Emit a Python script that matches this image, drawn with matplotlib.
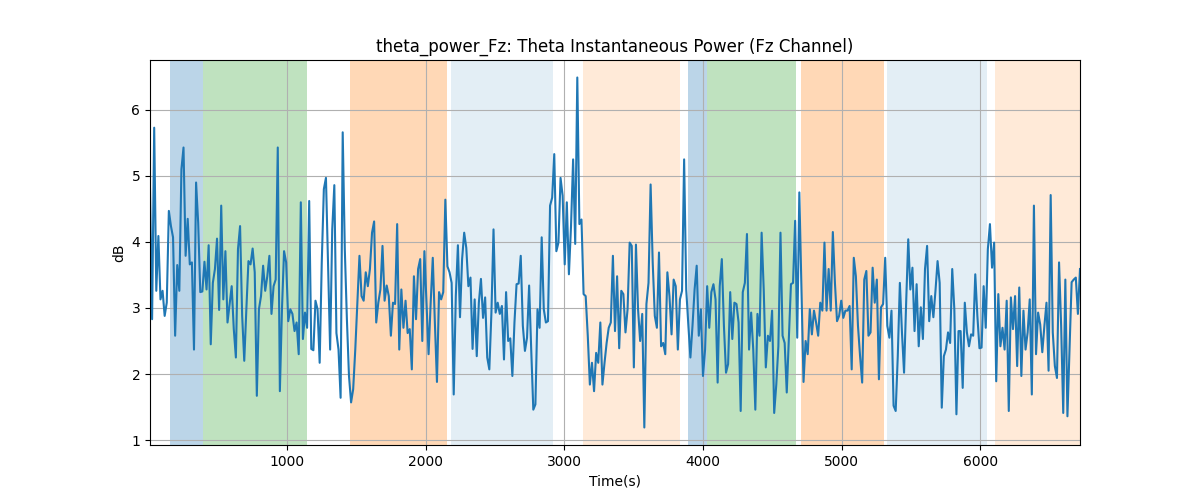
import numpy as np
import matplotlib.pyplot as plt

# theta power (dB), sampled at a fixed step
power_db = [
    4.8, 2.83, 5.73, 3.26, 4.09, 3.13, 3.26, 2.88, 3.08, 4.47, 4.24, 4.07, 2.58, 3.65, 3.26, 5.1, 5.43, 3.79,
    4.35, 3.66, 3.69, 2.37, 4.9, 4.29, 3.24, 3.25, 3.7, 3.28, 3.95, 2.45, 3.38, 3.59, 4.05, 2.97, 4.55, 3.13,
    3.86, 2.78, 3.06, 3.33, 2.68, 2.25, 3.89, 4.24, 2.88, 2.2, 2.98, 3.71, 3.66, 3.9, 3.54, 1.67, 2.98, 3.18,
    3.64, 3.26, 3.48, 3.79, 2.91, 3.33, 3.43, 5.43, 1.74, 2.98, 3.86, 3.69, 2.8, 2.98, 2.91, 2.65, 2.78, 2.3,
    4.6, 2.53,
    2.93, 2.7, 4.62, 2.38, 2.36, 3.11, 2.98, 2.17, 3.69, 4.8, 4.97, 3.69, 2.37, 4.19, 4.86, 2.62, 2.37, 1.64,
    5.66, 3.89, 2.83, 1.97, 1.57, 1.77, 2.37, 3.08, 3.79, 3.18, 3.11, 3.54, 3.33, 3.59, 4.14, 4.31, 2.78, 3.08,
    3.28, 3.94,
    3.11, 3.34, 3.18, 2.58, 3.08, 3.06, 4.27, 2.37, 3.28, 2.7, 3.11, 2.62, 2.68, 2.07, 3.48, 2.83, 3.59, 3.74,
    2.5, 3.86, 3.08, 2.3, 3.08, 3.76, 2.78, 1.88, 3.24, 3.13, 3.24, 4.64, 3.63, 3.54, 3.38, 1.69, 3.18, 3.95,
    2.86, 3.74, 4.14,
    3.91, 3.33, 3.46, 2.38, 3.13, 2.27, 3.08, 3.44, 2.85, 3.16, 2.25, 2.07, 2.93, 4.19, 2.93, 3.08, 2.91, 3.03,
    2.22, 3.24, 2.5, 2.54, 1.97, 2.78, 3.36, 3.37, 3.79, 2.73, 2.35, 2.55, 3.34, 2.37, 1.46, 1.54, 2.98, 2.7,
    4.07, 2.98,
    2.78, 2.8, 4.55, 4.67, 5.33, 3.86, 3.99, 4.97, 4.7, 3.66, 4.6, 3.51, 4.24, 5.25, 3.97, 6.49, 4.27, 4.34,
    3.21, 3.18, 2.58, 1.84, 2.17, 1.74, 2.32, 2.17, 2.78, 1.84, 2.17, 2.47, 2.7, 2.78, 3.79, 2.65, 3.48, 2.39,
    3.26, 3.21,
    2.63, 2.98, 3.99, 3.94, 2.1, 3.96, 2.98, 2.5, 2.91, 1.19, 3.06, 3.38, 4.87, 3.69, 2.88, 2.7, 3.84, 2.42,
    2.47, 2.3, 3.54, 3.18, 2.6, 3.43, 3.33, 2.37, 3.13, 3.26, 5.25, 3.28, 2.75, 2.25, 2.73, 3.28, 3.64, 2.58,
    2.98, 1.97, 2.37,
    3.33, 2.7, 3.24, 3.36, 3.13, 1.87, 3.33, 3.74, 2.73, 2.02, 2.15, 3.24, 2.53, 3.08, 3.06, 2.78, 1.44, 3.24,
    3.38, 4.12, 2.37, 2.93, 2.37, 1.46, 2.91, 2.58, 4.14, 3.28, 2.1, 2.58, 2.5, 2.96, 1.41, 1.84, 2.42, 4.14,
    2.58, 2.47, 1.72,
    2.55, 3.36, 3.38, 4.32, 2.55, 4.75, 3.28, 1.88, 2.5, 2.3, 2.98, 2.6, 2.96, 2.78, 2.58, 3.08, 2.96, 3.99,
    2.96, 3.59, 2.96, 4.15, 3.38, 2.8, 2.88, 3.11, 2.85, 2.96, 2.96, 3.03, 2.07, 3.76, 3.48, 2.73, 2.27, 1.87,
    3.43, 3.56,
    2.58, 2.63, 3.61, 3.08, 3.43, 1.92, 3.01, 3.06, 3.76, 2.73, 2.55, 2.96, 1.52, 1.44, 2.27, 3.38, 2.63, 2.02,
    3.08, 4.04, 3.28, 3.61, 2.65, 3.36, 2.42, 3.01, 2.53, 3.59, 3.94, 2.8, 3.18, 2.86, 3.26, 3.71, 3.38, 1.49,
    2.27, 2.37,
    2.63, 2.47, 3.59, 2.98, 1.39, 2.65, 2.65, 1.79, 3.08, 2.63, 2.42, 2.6, 2.58, 3.51, 2.88, 2.39, 2.4, 3.33,
    2.7, 3.89, 4.27, 3.61, 3.99, 1.89, 3.21, 2.42, 2.7, 2.37, 3.11, 1.44, 3.16, 2.68, 3.18, 2.12, 3.31, 1.97,
    2.96, 2.37, 2.63,
    3.13, 1.69, 4.55, 2.3, 2.93, 2.75, 2.33, 2.73, 3.08, 2.05, 4.71, 2.63, 2.12, 1.94, 3.69, 2.73, 1.41, 3.43,
    1.36, 2.37, 3.39, 3.43, 3.46, 2.91, 3.59,
]
t_start = 8.0
t_step = 15.12  # seconds between samples
times = t_start + np.arange(len(power_db)) * t_step

# shaded task segments
seg_start = [152, 391, 1452, 2181, 3134, 3892, 4029, 4708, 5329, 6108]
seg_end = [391, 1141, 2152, 2920, 3834, 4029, 4672, 5307, 6050, times[-1]]
seg_color = ['tab:blue', 'tab:green', 'tab:orange', 'tab:blue', 'tab:orange',
             'tab:blue', 'tab:green', 'tab:orange', 'tab:blue', 'tab:orange']
seg_alpha = [0.3, 0.3, 0.3, 0.12, 0.16, 0.3, 0.3, 0.3, 0.12, 0.16]

fig, ax = plt.subplots(figsize=(12, 5))
for s, e, c, a in zip(seg_start, seg_end, seg_color, seg_alpha):
    ax.axvspan(s, e, color=c, alpha=a, lw=0)
ax.plot(times, power_db, color='tab:blue', lw=1.5)
ax.set_xlim(times[0], times[-1])
ax.grid(True)
ax.set_title('theta_power_Fz: Theta Instantaneous Power (Fz Channel)')
ax.set_xlabel('Time(s)')
ax.set_ylabel('dB')
plt.savefig('out.png')
